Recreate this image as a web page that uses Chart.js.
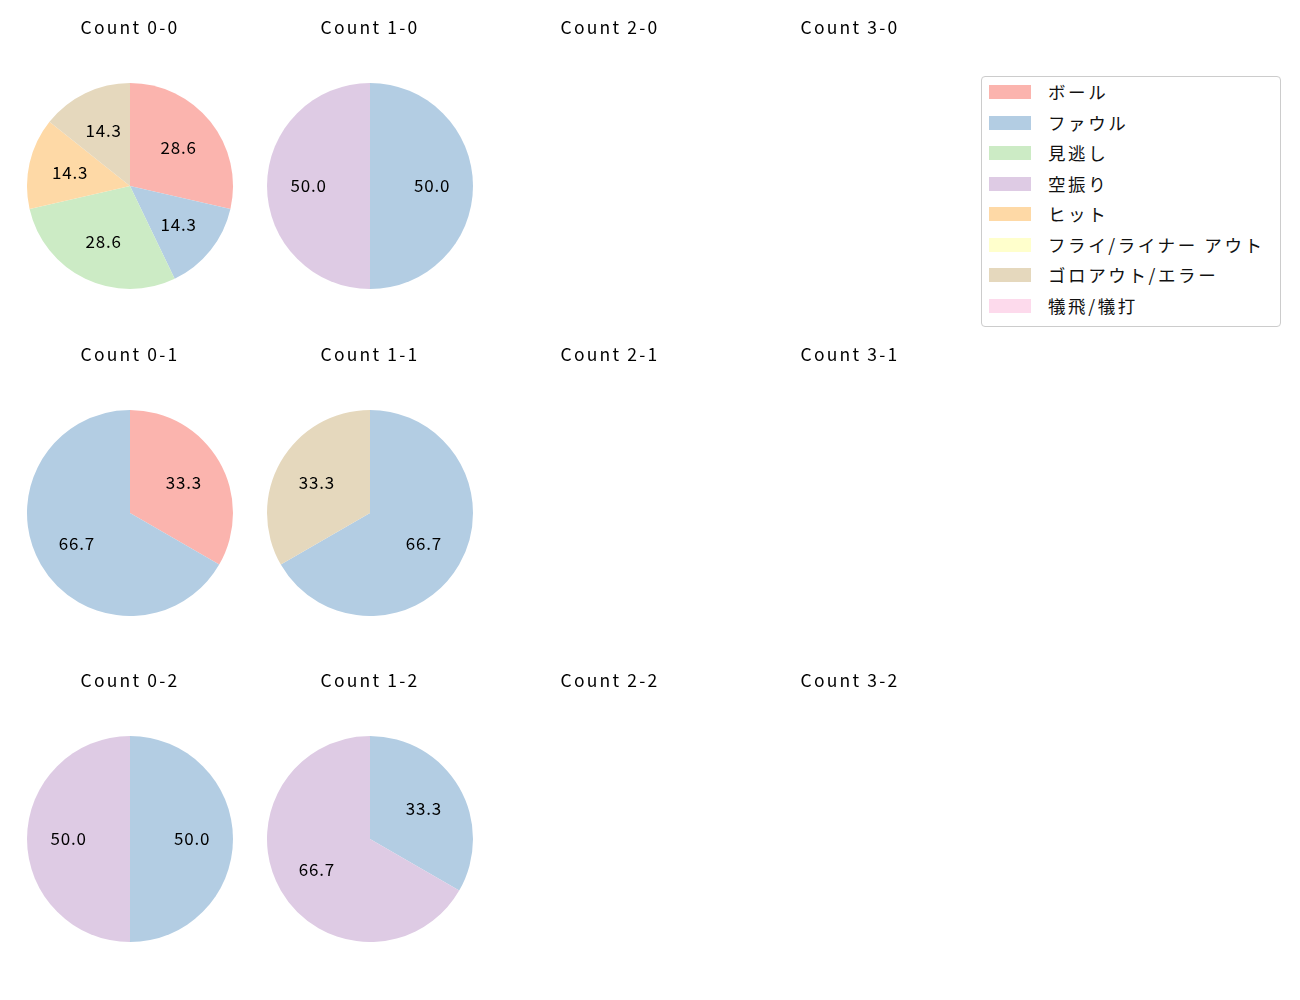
<!DOCTYPE html>
<html>
<head>
<meta charset="utf-8">
<script src="https://cdn.jsdelivr.net/npm/chart.js@4/dist/chart.umd.min.js"></script>
<style>
  body { margin: 0; background: #fff; }
  #wrap { position: relative; width: 1300px; height: 1000px; font-family: "Noto Sans CJK JP", "Noto Sans", sans-serif; }
  canvas.cell { position: absolute; }
  #legend { position: absolute; left: 981px; top: 76px; width: 298px; height: 249px; border: 1px solid #cccccc; border-radius: 4px; background: #fff; }
  .item { position: absolute; left: 7px; height: 20px; font-size: 17.5px; letter-spacing: 2.6px; color: #111; line-height: 20px; }
  .item span.sw { position: absolute; left: 0; top: 3px; width: 42px; height: 14px; }
  .item span.tx { position: absolute; left: 59px; white-space: nowrap; }
</style>
</head>
<body>
<div id="wrap"><div id="legend"></div></div>
<script>
const categories = ['ボール', 'ファウル', '見逃し', '空振り', 'ヒット', 'フライ/ライナー アウト', 'ゴロアウト/エラー', '犠飛/犠打'];
const colors = ['#fbb4ae', '#b3cde3', '#ccebc5', '#decbe4', '#fed9a6', '#ffffcc', '#e5d8bd', '#fddaec'];

// pitch counts per ball-strike situation (order = categories)
const count00 = [2, 1, 2, 0, 1, 0, 1, 0];
const count10 = [0, 1, 0, 1, 0, 0, 0, 0];
const count01 = [1, 2, 0, 0, 0, 0, 0, 0];
const count11 = [0, 2, 0, 0, 0, 0, 1, 0];
const count02 = [0, 1, 0, 1, 0, 0, 0, 0];
const count12 = [0, 1, 0, 2, 0, 0, 0, 0];
const empty = [0, 0, 0, 0, 0, 0, 0, 0];

const balls = [0, 1, 2, 3];
const strikes = [0, 1, 2];
const grid = [
  [count00, count10, empty, empty],
  [count01, count11, empty, empty],
  [count02, count12, empty, empty]
];

const FONT = '"Noto Sans CJK JP", "Noto Sans", sans-serif';

// wider glyph spacing for the title text
const spacing = {
  id: 'spacing',
  beforeDraw(chart) { chart.ctx.letterSpacing = '2.2px'; }
};

const pctLabels = {
  id: 'pctLabels',
  afterDatasetsDraw(chart) {
    const meta = chart.getDatasetMeta(0);
    const vals = chart.data.datasets[0].data;
    const total = vals.reduce((a, b) => a + b, 0);
    if (!total) return;
    const ctx = chart.ctx;
    ctx.save();
    ctx.letterSpacing = '0.8px';
    ctx.font = '17px ' + FONT;
    ctx.fillStyle = '#000';
    ctx.textAlign = 'center';
    ctx.textBaseline = 'middle';
    meta.data.forEach((arc, i) => {
      if (!vals[i]) return;
      const mid = (arc.startAngle + arc.endAngle) / 2;
      const r = arc.outerRadius * 0.6;
      ctx.fillText((vals[i] / total * 100).toFixed(1), arc.x + Math.cos(mid) * r + 0.4, arc.y + Math.sin(mid) * r);
    });
    ctx.restore();
  }
};

const wrap = document.getElementById('wrap');
const colX = [130, 370, 610, 850];
strikes.forEach((s, r) => {
  balls.forEach((b, c) => {
    const cv = document.createElement('canvas');
    cv.className = 'cell';
    cv.width = 230; cv.height = 279;
    cv.style.width = '230px'; cv.style.height = '279px';
    cv.style.left = (colX[c] - 115) + 'px';
    cv.style.top = (10 + r * 326.5) + 'px';
    wrap.appendChild(cv);
    new Chart(cv, {
      type: 'pie',
      data: {
        labels: categories,
        datasets: [{ data: grid[r][c], backgroundColor: colors, borderWidth: 0 }]
      },
      options: {
        responsive: false,
        animation: false,
        layout: { padding: { left: 12, right: 12, top: 0, bottom: 0 } },
        plugins: {
          legend: { display: false },
          tooltip: { enabled: false },
          title: {
            display: true,
            text: 'Count ' + b + '-' + s,
            color: '#000',
            font: { size: 17.5, weight: 'normal', family: FONT, lineHeight: 1.2 },
            padding: { top: 7, bottom: 45 }
          }
        }
      },
      plugins: [spacing, pctLabels]
    });
  });
});

const legend = document.getElementById('legend');
categories.forEach((name, i) => {
  const d = document.createElement('div');
  d.className = 'item';
  d.style.top = (5 + i * 30.57) + 'px';
  d.innerHTML = '<span class="sw" style="background:' + colors[i] + '"></span><span class="tx">' + name + '</span>';
  legend.appendChild(d);
});
</script>
</body>
</html>
